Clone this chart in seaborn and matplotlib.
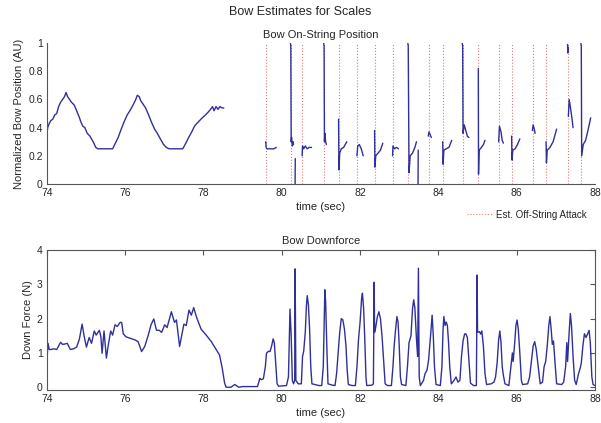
import matplotlib
matplotlib.use("Agg")
import matplotlib.pyplot as plt
import seaborn as sns
import pandas as pd

# ----------------------------
# Data
# ----------------------------
attack_times = [79.59, 80.23, 80.52, 81.08, 81.45, 81.93, 82.37, 82.83, 83.23,
                83.77, 84.11, 84.62, 85.02, 85.55, 85.87, 86.42, 86.75, 87.30, 87.65]

# bow position: one (time, value) pair of lists per on-string segment
pos_scale_t = [74.0, 74.02, 74.06, 74.1, 74.15, 74.2, 74.25, 74.3, 74.35, 74.4, 74.45, 74.49,
               74.53, 74.58, 74.63, 74.7, 74.76, 74.82, 74.87, 74.92, 74.97, 75.03, 75.1,
               75.18, 75.25, 75.3, 75.5, 75.68, 75.75, 75.82, 75.9, 75.97, 76.05, 76.12,
               76.2, 76.27, 76.31, 76.36, 76.4, 76.45, 76.52, 76.6, 76.67, 76.75, 76.82,
               76.9, 76.98, 77.05, 77.12, 77.3, 77.47, 77.55, 77.62, 77.7, 77.77, 77.83,
               77.9, 77.97, 78.05, 78.12, 78.18, 78.23, 78.27, 78.32, 78.37, 78.42, 78.47, 78.52]
pos_scale_y = [0.35, 0.4, 0.43, 0.45, 0.46, 0.49, 0.5, 0.55, 0.58, 0.6, 0.62, 0.65,
               0.62, 0.6, 0.58, 0.56, 0.52, 0.48, 0.44, 0.41, 0.4, 0.36, 0.34,
               0.3, 0.26, 0.25, 0.25, 0.25, 0.29, 0.33, 0.39, 0.44, 0.49, 0.52,
               0.56, 0.6, 0.63, 0.62, 0.59, 0.57, 0.54, 0.49, 0.44, 0.39, 0.36,
               0.32, 0.28, 0.26, 0.25, 0.25, 0.25, 0.29, 0.33, 0.37, 0.41, 0.43,
               0.45, 0.47, 0.49, 0.51, 0.53, 0.55, 0.52, 0.55, 0.53, 0.55, 0.54, 0.54]

pos_segments = [
    (pos_scale_t, pos_scale_y),
    ([79.59, 79.6, 79.62, 79.7, 79.8, 79.86], [0.3, 0.26, 0.25, 0.25, 0.25, 0.26]),
    ([80.22, 80.23, 80.24, 80.25, 80.27, 80.29, 80.3], [1.0, 0.98, 0.3, 0.33, 0.27, 0.3, 0.28]),
    ([80.34, 80.345], [0.0, 0.18]),
    ([80.52, 80.53, 80.56, 80.6, 80.65, 80.7, 80.76], [0.2, 0.27, 0.25, 0.27, 0.25, 0.26, 0.26]),
    ([81.07, 81.08, 81.09, 81.1, 81.12, 81.14], [1.0, 0.98, 0.3, 0.36, 0.3, 0.28]),
    ([81.45, 81.46, 81.48, 81.52, 81.58, 81.66], [0.46, 0.1, 0.22, 0.25, 0.26, 0.3]),
    ([81.92, 81.94, 81.98, 82.03, 82.08], [0.2, 0.27, 0.28, 0.25, 0.2]),
    ([82.37, 82.38, 82.4, 82.46, 82.52, 82.58], [0.38, 0.12, 0.2, 0.22, 0.24, 0.29]),
    ([82.83, 82.84, 82.88, 82.93, 82.98], [0.2, 0.27, 0.25, 0.26, 0.25]),
    ([83.22, 83.23, 83.25, 83.28, 83.34, 83.4, 83.44], [1.0, 0.98, 0.08, 0.2, 0.22, 0.26, 0.3]),
    ([83.48, 83.485], [0.0, 0.24]),
    ([83.74, 83.76, 83.79, 83.82], [0.34, 0.37, 0.35, 0.33]),
    ([84.11, 84.12, 84.14, 84.2, 84.27, 84.34], [0.3, 0.14, 0.24, 0.25, 0.26, 0.31]),
    ([84.61, 84.62, 84.63, 84.66, 84.7, 84.74, 84.78], [1.0, 0.98, 0.36, 0.42, 0.38, 0.34, 0.33]),
    ([85.02, 85.025, 85.04, 85.1, 85.15, 85.19], [0.82, 0.07, 0.24, 0.26, 0.28, 0.31]),
    ([85.54, 85.56, 85.6, 85.63, 85.66], [0.3, 0.41, 0.37, 0.31, 0.29]),
    ([85.87, 85.88, 85.9, 85.96, 86.02, 86.08], [0.34, 0.17, 0.24, 0.25, 0.28, 0.32]),
    ([86.4, 86.42, 86.45, 86.47], [0.38, 0.42, 0.39, 0.36]),
    ([86.75, 86.76, 86.78, 86.85, 86.93, 87.02], [0.3, 0.15, 0.24, 0.26, 0.3, 0.39]),
    ([87.3, 87.305, 87.31], [0.99, 0.93, 0.97]),
    ([87.32, 87.34, 87.37, 87.41, 87.44], [0.48, 0.6, 0.55, 0.47, 0.4]),
    ([87.64, 87.65, 87.66, 87.7, 87.76, 87.82, 87.89], [1.0, 0.98, 0.2, 0.28, 0.31, 0.38, 0.47]),
]

# bow downforce: legato part (74 - 79.4 s)
force_legato_t = [74.0, 74.03, 74.06, 74.1, 74.18, 74.25, 74.3, 74.35, 74.4, 74.46, 74.52, 74.6,
                  74.68, 74.76, 74.83, 74.9, 74.95, 75.01, 75.08, 75.14, 75.21, 75.26, 75.34,
                  75.38, 75.41, 75.46, 75.52, 75.57, 75.63, 75.68, 75.74, 75.8, 75.87, 75.91,
                  75.95, 76.02, 76.12, 76.2, 76.25, 76.33, 76.42, 76.5, 76.59, 76.66, 76.73,
                  76.8, 76.87, 76.93, 77.01, 77.07, 77.18, 77.26, 77.31, 77.39, 77.5, 77.56,
                  77.63, 77.69, 77.75, 77.82, 77.94, 78.07, 78.2, 78.33, 78.41, 78.48, 78.54,
                  78.58, 78.7, 78.8, 78.9, 79.0, 79.38]
force_legato_y = [0.8, 1.28, 1.1, 1.1, 1.12, 1.1, 1.2, 1.31, 1.25, 1.26, 1.28, 1.1,
                  1.12, 1.17, 1.4, 1.84, 1.5, 1.17, 1.45, 1.28, 1.64, 1.52, 1.66,
                  1.47, 0.99, 1.64, 0.85, 1.24, 1.64, 1.52, 1.82, 1.77, 1.89, 1.89,
                  1.56, 1.47, 1.43, 1.4, 1.38, 1.33, 1.04, 1.19, 1.52, 1.82, 1.99,
                  1.66, 1.66, 1.6, 1.82, 1.74, 2.2, 1.89, 1.96, 1.19, 1.84, 1.8,
                  2.25, 2.1, 2.32, 2.05, 1.69, 1.52, 1.33, 1.09, 0.94, 0.55, 0.12,
                  0.0, 0.0, 0.08, 0.0, 0.02, 0.02]

# bow downforce: off-string strokes (79.4 - 88 s)
force_stroke_t = [79.44, 79.48, 79.53, 79.58, 79.61, 79.66, 79.7, 79.74, 79.78, 79.81, 79.84,
                  79.88, 79.92, 80.12, 80.17, 80.21, 80.24, 80.27, 80.3, 80.33, 80.34, 80.36,
                  80.42, 80.5, 80.53, 80.56, 80.6, 80.63, 80.65, 80.68, 80.71, 80.74, 80.77,
                  80.84, 80.95, 81.02, 81.06, 81.09, 81.1, 81.12, 81.15, 81.18, 81.3, 81.36,
                  81.4, 81.44, 81.48, 81.52, 81.56, 81.6, 81.64, 81.67, 81.7, 81.8, 81.88,
                  81.92, 81.96, 82.0, 82.04, 82.06, 82.09, 82.12, 82.15, 82.17, 82.3, 82.34,
                  82.36, 82.37, 82.4, 82.44, 82.48, 82.52, 82.56, 82.6, 82.64, 82.7, 82.8,
                  82.84, 82.87, 82.9, 82.94, 82.97, 83.0, 83.03, 83.06, 83.17, 83.21, 83.25,
                  83.3, 83.34, 83.37, 83.4, 83.44, 83.47, 83.49, 83.51, 83.54, 83.62, 83.66,
                  83.71, 83.75, 83.8, 83.84, 83.87, 83.9, 83.94, 84.05, 84.09, 84.12, 84.14,
                  84.17, 84.2, 84.23, 84.26, 84.29, 84.33, 84.4, 84.45, 84.5, 84.55, 84.59,
                  84.63, 84.67, 84.7, 84.74, 84.78, 84.82, 84.9, 84.97, 84.99, 85.0, 85.05,
                  85.08, 85.11, 85.15, 85.19, 85.23, 85.35, 85.42, 85.46, 85.5, 85.54, 85.57,
                  85.6, 85.63, 85.66, 85.7, 85.8, 85.86, 85.89, 85.91, 85.95, 85.98, 86.01,
                  86.04, 86.08, 86.12, 86.15, 86.28, 86.33, 86.38, 86.42, 86.46, 86.5, 86.55,
                  86.6, 86.66, 86.7, 86.74, 86.78, 86.82, 86.85, 86.88, 86.91, 86.94, 86.98,
                  87.02, 87.15, 87.2, 87.25, 87.28, 87.3, 87.34, 87.37, 87.4, 87.44, 87.48,
                  87.52, 87.58, 87.62, 87.65, 87.69, 87.73, 87.77, 87.81, 87.85, 87.88, 87.92,
                  87.95, 88.0]
force_stroke_y = [0.26, 0.22, 0.25, 0.6, 0.99, 1.05, 1.04, 1.2, 1.41, 1.3, 0.8,
                  0.1, 0.03, 0.05, 0.3, 2.28, 1.5, 0.2, 0.1, 0.2, 3.45, 0.2,
                  0.1, 0.1, 0.9, 1.05, 1.6, 2.4, 2.67, 2.4, 1.7, 0.6, 0.1,
                  0.08, 0.05, 0.05, 0.6, 2.2, 2.84, 2.5, 1.2, 0.1, 0.06, 0.05,
                  0.4, 1.0, 1.6, 2.0, 1.96, 1.7, 1.2, 0.5, 0.08, 0.05, 0.05,
                  0.6, 1.4, 1.9, 2.6, 2.74, 2.3, 1.4, 0.3, 0.05, 0.06, 0.1,
                  3.06, 1.6, 1.75, 2.05, 2.2, 2.0, 1.5, 0.8, 0.1, 0.05, 0.05,
                  0.6, 1.2, 1.6, 2.06, 1.9, 1.2, 0.3, 0.08, 0.05, 0.6, 1.3,
                  1.5, 2.3, 2.55, 2.3, 1.4, 0.9, 3.47, 0.3, 0.05, 0.2, 0.4,
                  0.5, 0.8, 1.5, 2.1, 1.5, 0.6, 0.08, 0.05, 0.6, 1.7, 2.06,
                  1.8, 1.9, 1.8, 1.3, 0.6, 0.1, 0.2, 0.3, 0.15, 0.2, 0.9,
                  1.35, 1.55, 1.56, 1.45, 0.8, 0.12, 0.05, 0.05, 3.27, 1.6, 1.62,
                  1.55, 1.64, 1.2, 0.4, 0.08, 0.1, 0.15, 0.3, 0.7, 1.4, 1.64,
                  1.3, 0.6, 0.35, 0.1, 0.05, 0.7, 1.0, 0.75, 1.3, 1.8, 1.96,
                  1.7, 1.0, 0.2, 0.08, 0.1, 0.3, 0.8, 1.2, 1.33, 1.1, 0.6,
                  0.1, 0.15, 0.6, 0.75, 1.2, 1.8, 2.06, 1.7, 1.25, 1.35, 0.7,
                  0.1, 0.08, 0.15, 0.6, 1.3, 0.75, 1.6, 2.15, 1.8, 0.9, 0.2,
                  0.08, 0.4, 0.55, 0.7, 1.2, 1.56, 1.45, 1.55, 1.66, 1.3, 0.3,
                  0.08, 0.05]

# ----------------------------
# Build tables for seaborn
# ----------------------------
pos_rows = []
for seg_id, (ts, ys) in enumerate(pos_segments):
    for t, y in zip(ts, ys):
        pos_rows.append({"time": t, "pos": y, "seg": seg_id})
pos_df = pd.DataFrame(pos_rows)
force_df = pd.DataFrame({"time": force_legato_t + force_stroke_t,
                         "force": force_legato_y + force_stroke_y})

sns.set_style("white")
plt.rcParams["font.family"] = ["Liberation Sans", "DejaVu Sans"]
plt.rcParams["xtick.direction"] = "in"
plt.rcParams["ytick.direction"] = "in"

line_col = "#30309a"
attack_col = "#e07a7a"
spine_col = "#555555"

fig = plt.figure(figsize=(6.01, 4.23), dpi=100)
ax1 = fig.add_axes([0.078, 0.565, 0.912, 0.333])
ax2 = fig.add_axes([0.078, 0.078, 0.912, 0.331])

# ----------------------------
# Bow On-String Position
# ----------------------------
for i, t in enumerate(attack_times):
    ax1.axvline(t, color=attack_col, ls=":", lw=0.8,
                label="Est. Off-String Attack" if i == 0 else None)
sns.lineplot(data=pos_df, x="time", y="pos", units="seg", estimator=None,
             color=line_col, lw=1.0, ax=ax1, legend=False)
ax1.set_xlim(74, 88)
ax1.set_ylim(0, 1)
ax1.set_xticks([74, 76, 78, 80, 82, 84, 86, 88])
ax1.set_yticks([0, 0.2, 0.4, 0.6, 0.8, 1])
ax1.set_yticklabels(["0", "0.2", "0.4", "0.6", "0.8", "1"])
ax1.set_xlabel("time (sec)", fontsize=8, labelpad=3)
ax1.set_ylabel("Normalized Bow Position (AU)", fontsize=8, labelpad=3)
ax1.set_title("Bow On-String Position", fontsize=8, pad=4)
for side in ["top", "right"]:
    ax1.spines[side].set_visible(False)
for side in ["left", "bottom"]:
    ax1.spines[side].set_color(spine_col)
ax1.tick_params(labelsize=7.5, length=3.5, color=spine_col, pad=3)
ax1.legend(loc="upper right", bbox_to_anchor=(1.0, -0.12), frameon=False,
           fontsize=7, handlelength=2.5, handletextpad=0.4)

# ----------------------------
# Bow Downforce
# ----------------------------
sns.lineplot(data=force_df, x="time", y="force", color=line_col, lw=1.0, ax=ax2)
ax2.set_xlim(74, 88)
ax2.set_ylim(-0.08, 4)
ax2.set_xticks([74, 76, 78, 80, 82, 84, 86, 88])
ax2.set_yticks([0, 1, 2, 3, 4])
ax2.set_xlabel("time (sec)", fontsize=8, labelpad=3)
ax2.set_ylabel("Down Force (N)", fontsize=8, labelpad=3)
ax2.set_title("Bow Downforce", fontsize=8, pad=4)
for side in ax2.spines:
    ax2.spines[side].set_color(spine_col)
ax2.tick_params(labelsize=7.5, length=3.5, color=spine_col, pad=3,
                top=True, right=True)

fig.suptitle("Bow Estimates for Scales", fontsize=9, y=0.985)

fig.savefig("out.png", dpi=100)
plt.close(fig)
